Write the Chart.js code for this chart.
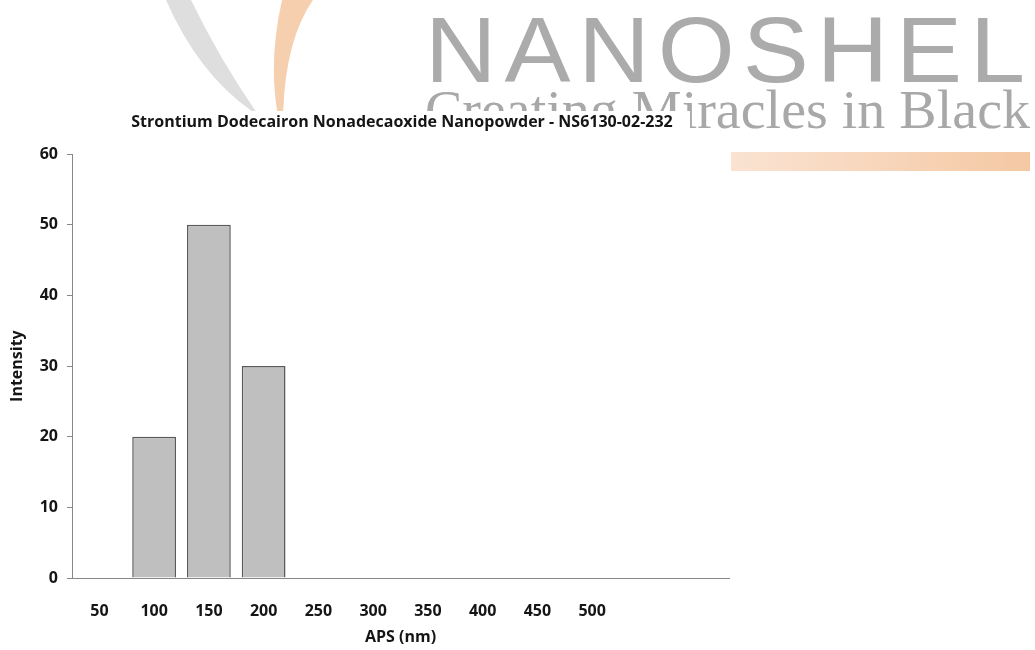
<!DOCTYPE html>
<html>
<head>
<meta charset="utf-8">
<script src="https://cdn.jsdelivr.net/npm/chart.js@4/dist/chart.umd.min.js"></script>
<style>
    html, body { margin: 0; padding: 0; background: #fff; }
    #page { position: relative; width: 1035px; height: 650px; overflow: hidden; }
    .mark { position: absolute; white-space: nowrap; line-height: 1; transform-origin: left top; }
    #brand { left: 425px; top: 4px; font-family: "Liberation Sans", sans-serif; font-size: 93px; color: #ababab; letter-spacing: 0.08em; }
    #slogan { left: 425px; top: 83px; font-family: "Liberation Serif", serif; font-size: 54px; color: #a8a8a8; }
    #stripe { position: absolute; left: 731px; top: 152px; width: 299px; height: 19px;
              background: linear-gradient(to right, #fae3d2, #f7d3b6 60%, #f4c8a3); }
    #cover { position: absolute; left: 0; top: 111px; width: 690px; height: 539px; background: #fff; }
    #chart { position: absolute; left: 0; top: 0; }
</style>
</head>
<body>
<div id="page">
    <div id="brand" class="mark">NANOSHEL</div>
    <div id="slogan" class="mark">Creating Miracles in Black</div>
    <div id="stripe"></div>
    <div id="cover"></div>
    <canvas id="chart" width="804" height="650"></canvas>
</div>
<script>
const chartTitle = "Strontium Dodecairon Nonadecaoxide Nanopowder - NS6130-02-232";
const sizes = ["50", "100", "150", "200", "250", "300", "350", "400", "450", "500", "", ""];
const intensity = [0, 20, 50, 30, 0, 0, 0, 0, 0, 0, 0, 0];
const xTitle = "APS (nm)";
const yTitle = "Intensity";

const textColor = "#151515";
const axisColor = "#888888";
const font = { family: "'Open Sans', sans-serif", size: 16, weight: "bold" };

// stretch the logo texts to the width they take in the picture
function fitText(id, width) {
    const el = document.getElementById(id);
    const w = el.getBoundingClientRect().width;
    el.style.transform = "scaleX(" + (width / w) + ")";
}

// the two swooshes of the logo, top left, cut by the chart box
const logoSwoosh = {
    id: "logoSwoosh",
    beforeDraw(chart) {
        const ctx = chart.ctx;
        ctx.save();
        ctx.beginPath();
        ctx.rect(0, 0, 690, 111);
        ctx.clip();

        ctx.fillStyle = "#dedede";
        ctx.beginPath();
        ctx.moveTo(166, 0);
        ctx.quadraticCurveTo(200, 78, 259, 116);
        ctx.quadraticCurveTo(220, 60, 191, 0);
        ctx.closePath();
        ctx.fill();

        ctx.fillStyle = "#f6cfae";
        ctx.beginPath();
        ctx.moveTo(282, 0);
        ctx.quadraticCurveTo(268, 62, 278, 116);
        ctx.lineTo(283, 116);
        ctx.quadraticCurveTo(285, 40, 313, 0);
        ctx.closePath();
        ctx.fill();
        ctx.restore();
    }
};

document.addEventListener("DOMContentLoaded", function () {
    fitText("brand", 608);
    fitText("slogan", 605);

    new Chart(document.getElementById("chart"), {
        type: "bar",
        data: {
            labels: sizes,
            datasets: [{
                data: intensity,
                backgroundColor: "#bfbfbf",
                borderColor: "#5a5a5a",
                borderWidth: 1.5,
                borderSkipped: "start",
                barPercentage: 0.8,
                categoryPercentage: 1.0
            }]
        },
        options: {
            responsive: false,
            animation: false,
            layout: { padding: 0 },
            plugins: {
                legend: { display: false },
                tooltip: { enabled: false },
                title: {
                    display: true,
                    text: chartTitle,
                    color: textColor,
                    font: font,
                    padding: { top: 113, bottom: 22 }
                }
            },
            scales: {
                x: {
                    grid: { display: false, drawTicks: false },
                    border: { display: true, color: axisColor, width: 1 },
                    ticks: { color: textColor, font: font, padding: 24, maxRotation: 0, autoSkip: false },
                    title: { display: true, text: xTitle, color: textColor, font: font, padding: { top: 4, bottom: 3 } },
                    afterFit(scale) { scale.height = 72; }
                },
                y: {
                    min: 0,
                    max: 60,
                    grid: { drawOnChartArea: false, drawTicks: true, tickLength: 5, color: axisColor },
                    border: { display: true, color: axisColor, width: 1 },
                    ticks: { stepSize: 10, color: textColor, font: font, padding: 9 },
                    title: { display: true, text: yTitle, color: textColor, font: font, padding: { top: 8, bottom: 0 } },
                    afterFit(scale) { scale.width = 72; }
                },
                // empty space to the right of the plot, keeps the title centred over it
                right: {
                    position: "right",
                    grid: { display: false },
                    border: { display: false },
                    ticks: { display: false },
                    afterFit(scale) { scale.width = 75; }
                }
            }
        },
        plugins: [logoSwoosh]
    });
});
</script>
</body>
</html>
